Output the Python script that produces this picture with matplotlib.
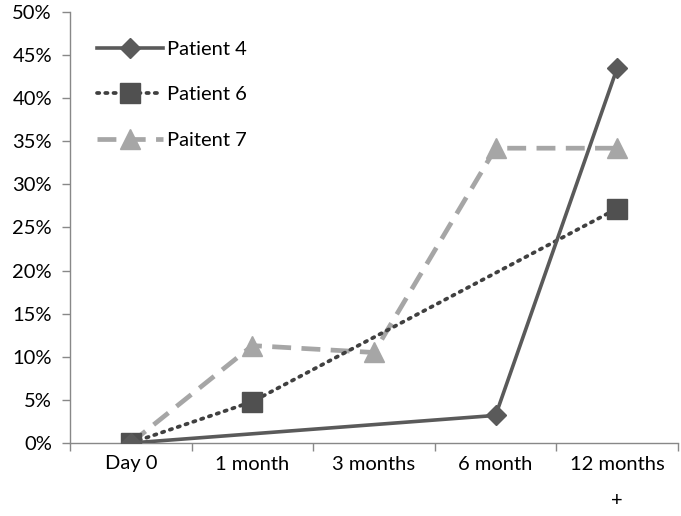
import numpy as np
import matplotlib
matplotlib.use("Agg")
import matplotlib.pyplot as plt
from matplotlib.ticker import FuncFormatter, FixedLocator

categories = ["Day 0", "1 month", "3 months", "6 month", "12 months\n+"]
patient4 = [0.0, np.nan, np.nan, 3.2, 43.5]
patient6 = [0.0, 4.8, np.nan, np.nan, 27.2]
patient7 = [0.0, 11.3, 10.5, 34.2, 34.2]

plt.rcParams['font.family'] = ['Lato', 'DejaVu Sans']

fig = plt.figure(figsize=(6.81, 5.16), dpi=100)
ax = fig.add_axes([70 / 681, 73 / 516, 608 / 681, 431 / 516])

x = np.arange(len(categories))


def draw(vals, **kw):
    v = np.array(vals, dtype=float)
    m = ~np.isnan(v)
    # excel joins the points across empty cells
    ax.plot(x[m], v[m], **kw)


draw(patient7, color="#a6a6a6", lw=3.4, dashes=(4, 2.2), marker="^", ms=14,
     mfc="#a6a6a6", mec="#a6a6a6", label="Paitent 7", zorder=3)
draw(patient6, color="#404040", lw=2.7, dashes=(0.6, 1.6), dash_capstyle="round",
     marker="s", ms=15, mfc="#505050", mec="#505050", label="Patient 6", zorder=4)
draw(patient4, color="#5a5a5a", lw=2.6, marker="D", ms=10,
     mfc="#5a5a5a", mec="#5a5a5a", label="Patient 4", zorder=5)

ax.set_xlim(-0.5, 4.5)
ax.set_ylim(0, 50)
ax.yaxis.set_major_locator(FixedLocator(np.arange(0, 51, 5)))
ax.yaxis.set_major_formatter(FuncFormatter(lambda v, p: f"{v:.0f}%"))

ax.set_xticks(x)
ax.set_xticklabels(categories, fontsize=14.5, linespacing=2.4, va="top")
ax.set_xticks(np.arange(-0.5, 5, 1), minor=True)
ax.tick_params(axis="x", which="major", length=0, pad=9)
ax.tick_params(axis="x", which="minor", length=6, color="#888888", width=1)
ax.tick_params(axis="y", length=6, color="#888888", width=1, labelsize=14.5, pad=7)

for s in ["top", "right"]:
    ax.spines[s].set_visible(False)
for s in ["left", "bottom"]:
    ax.spines[s].set_color("#888888")
    ax.spines[s].set_linewidth(1)

h, l = ax.get_legend_handles_labels()
order = [2, 1, 0]
ax.legend([h[i] for i in order], [l[i] for i in order], loc="upper left",
          bbox_to_anchor=(0.015, 0.975), frameon=False, fontsize=14.5,
          handlelength=3.25, labelspacing=1.4, handletextpad=0.2)

fig.savefig("out.png", dpi=100)
